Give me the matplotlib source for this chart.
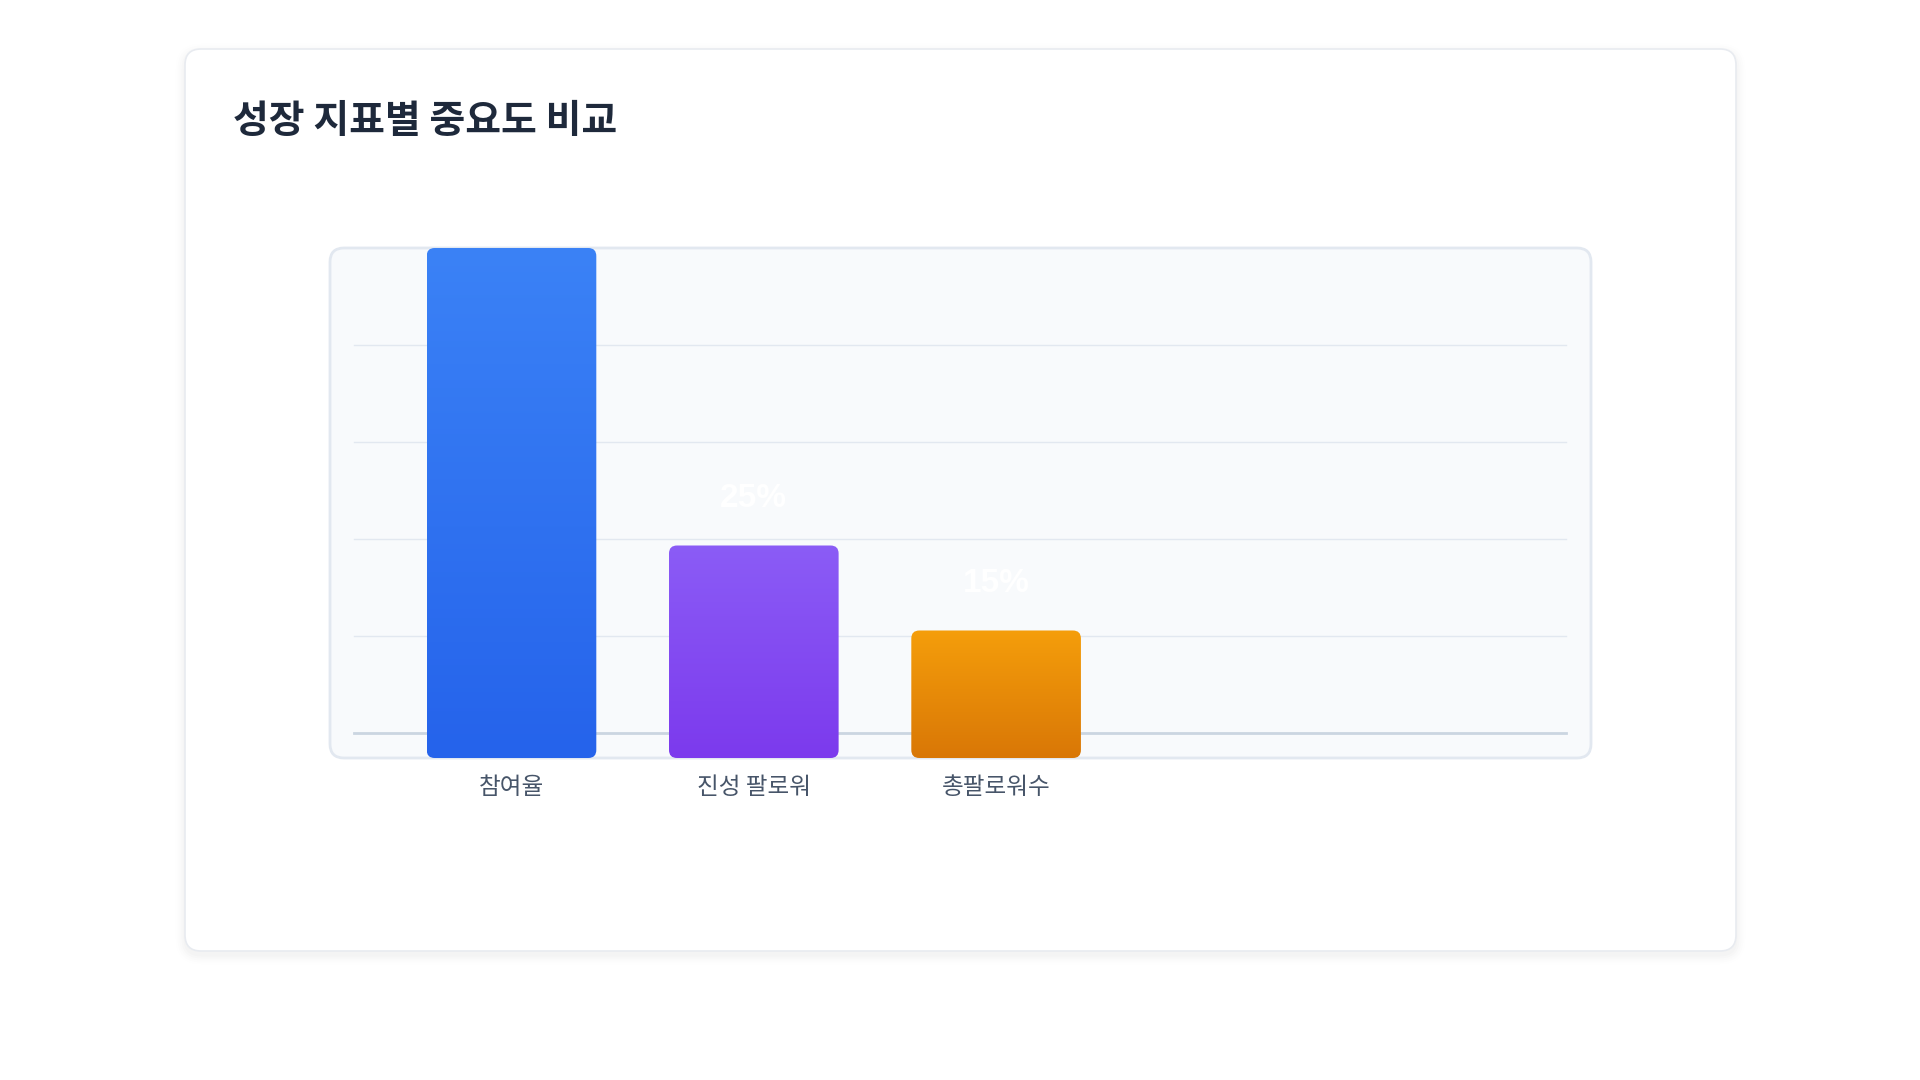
import numpy as np
import matplotlib
matplotlib.use("Agg")
import matplotlib.pyplot as plt
from matplotlib.patches import FancyBboxPatch
from matplotlib.colors import LinearSegmentedColormap

plt.rcParams['font.family'] = ['Noto Sans CJK KR', 'DejaVu Sans']

# data
title = "성장 지표별 중요도 비교"
categories = ["참여율", "진성 팔로워", "총팔로워수"]
values = [60, 25, 15]
top_colors = ["#3b82f6", "#8b5cf6", "#f59e0b"]
bottom_colors = ["#2563eb", "#7c3aed", "#d97706"]

W, H = 1920, 1080
fig = plt.figure(figsize=(W / 100, H / 100), dpi=100)
fig.patch.set_facecolor("white")

# overlay in pixel coords for card and panel
bg = fig.add_axes([0, 0, 1, 1], zorder=0)
bg.set_xlim(0, W)
bg.set_ylim(H, 0)
bg.axis("off")

# card shadow + card
card = (185, 49, 1551, 902)
for i, a in enumerate([0.012, 0.010, 0.008, 0.006, 0.004]):
    g = 3 + i * 4
    bg.add_patch(FancyBboxPatch((card[0] - g / 2, card[1] + 4 - g / 2), card[2] + g, card[3] + g,
                                boxstyle=f"round,pad=0,rounding_size={16 + g / 2}",
                                fc=(0.1, 0.15, 0.25, a), ec="none"))
bg.add_patch(FancyBboxPatch((card[0], card[1]), card[2], card[3],
                            boxstyle="round,pad=0,rounding_size=16",
                            fc="white", ec="#e8ebf0", lw=1.2))

# chart panel
px0, py0, px1, py1 = 330, 248, 1591, 758
bg.add_patch(FancyBboxPatch((px0, py0), px1 - px0, py1 - py0,
                            boxstyle="round,pad=0,rounding_size=14",
                            fc="#f8fafc", ec="#e2e8f0", lw=2))

bg.text(233, 122, title, fontsize=28, fontweight="semibold", color="#1e293b",
        ha="left", va="center")

ax = fig.add_axes([px0 / W, 1 - py1 / H, (px1 - px0) / W, (py1 - py0) / H], zorder=1)
ax.patch.set_alpha(0)
for s in ax.spines.values():
    s.set_visible(False)

# decorative grid lines
gx0, gx1 = 0.019, 0.980
for fy in [0.809, 0.619, 0.429, 0.239]:
    ax.plot([gx0, gx1], [fy, fy], transform=ax.transAxes, color="#e2e8f0", lw=1, zorder=1)
ax.plot([gx0, gx1], [0.049, 0.049], transform=ax.transAxes, color="#cbd5e1", lw=2, zorder=1)

x = np.arange(len(categories))
bars = ax.bar(x, values, width=0.7, color="none")
aspect = 242.3 / 8.5
for rect, c0, c1 in zip(bars, top_colors, bottom_colors):
    bx, bw, bh = rect.get_x(), rect.get_width(), rect.get_height()
    rect.set_visible(False)
    patch = FancyBboxPatch((bx, 0), bw, bh, boxstyle="round,pad=0,rounding_size=0.033",
                           mutation_aspect=aspect, fc="none", ec="none")
    ax.add_patch(patch)
    cmap = LinearSegmentedColormap.from_list("g", [c1, c0])
    grad = np.linspace(0, 1, 256).reshape(-1, 1)
    im = ax.imshow(grad, cmap=cmap, origin="lower", aspect="auto",
                   extent=(bx, bx + bw, 0, bh), zorder=2)
    im.set_clip_path(patch)

for xi, v in zip(x, values):
    ax.text(xi, v + 5.5, f"{v}%", ha="center", va="center", color="white",
            fontsize=24, fontweight="bold", family=["Liberation Sans", "DejaVu Sans"],
            clip_on=True, zorder=3)

ax.set_aspect("auto")
ax.set_xlim(-0.749, 4.455)
ax.set_ylim(0, 60)
ax.set_xticks(x)
ax.set_xticklabels(categories, fontsize=17, color="#475569")
ax.tick_params(axis="x", length=0, pad=13)
ax.set_yticks([])

fig.savefig("out.png", dpi=100, facecolor="white")
